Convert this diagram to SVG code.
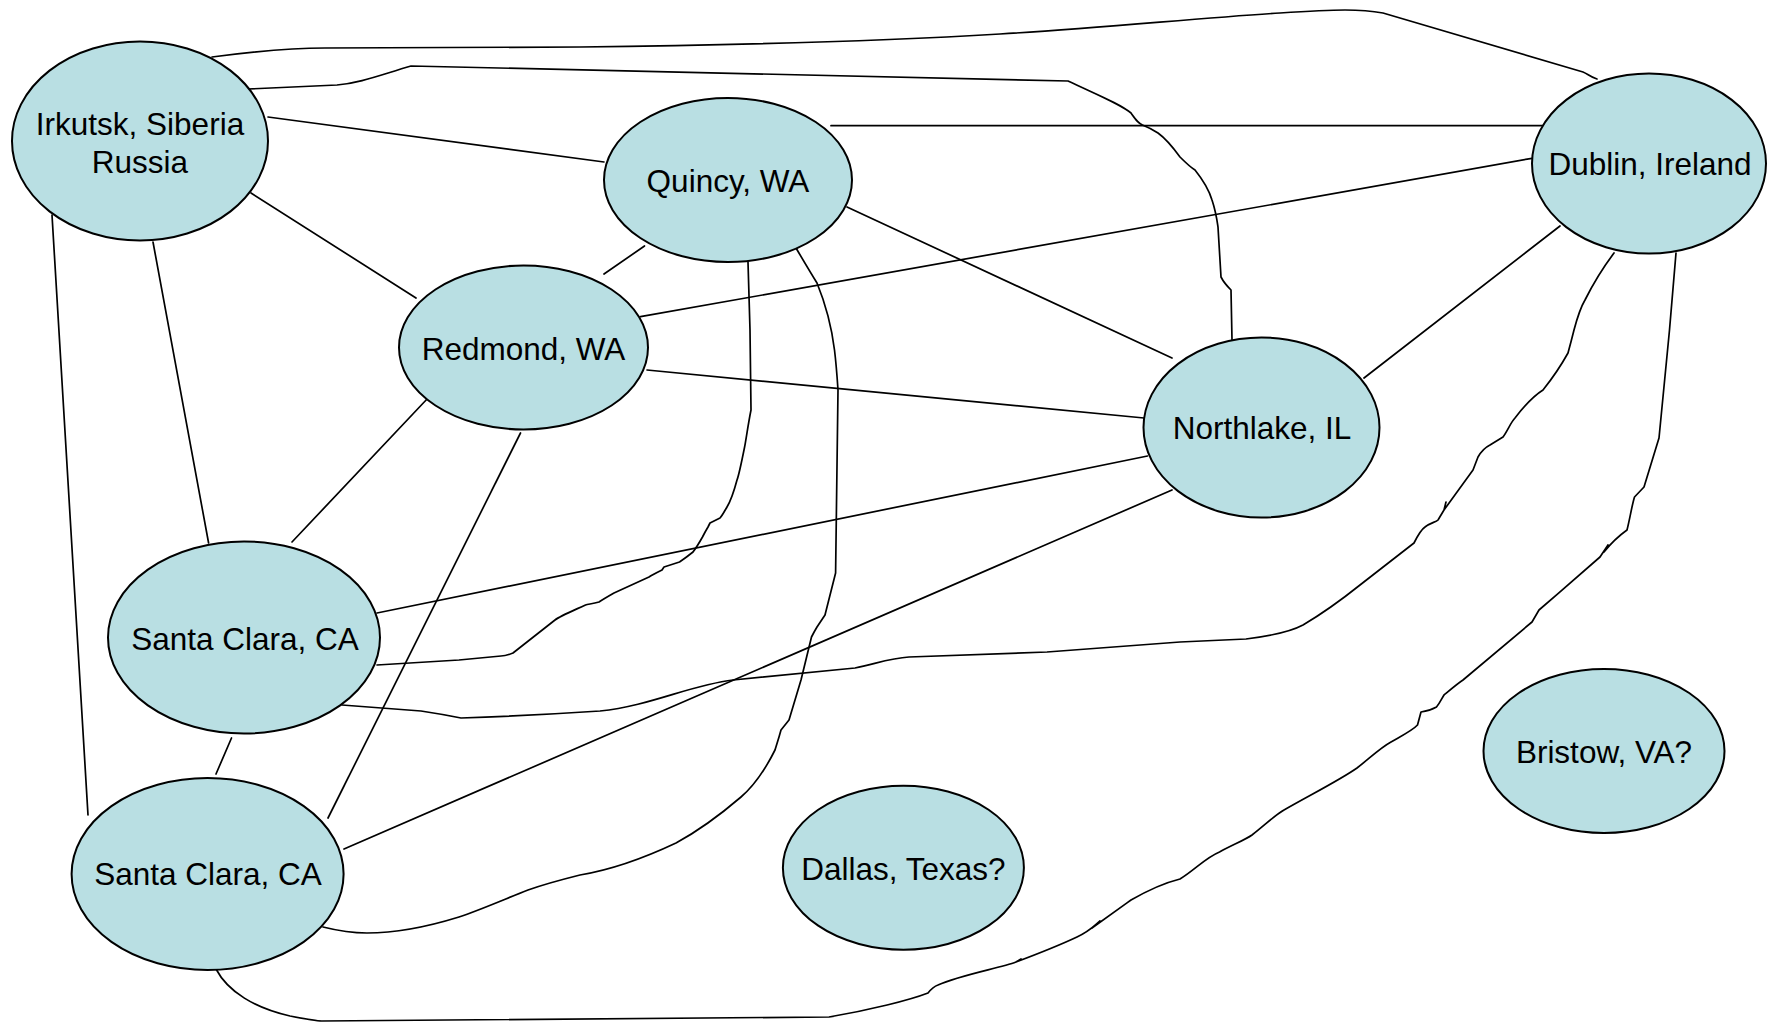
<svg xmlns="http://www.w3.org/2000/svg" width="1767" height="1024" viewBox="0 0 1767 1024">
<style>
.n ellipse{fill:#b9dfe3;stroke:#000;stroke-width:2}
.n text{font-family:"Liberation Sans",Arial,Helvetica,sans-serif;font-size:31.5px;fill:#000;text-anchor:middle}
#edges path,#edges line{fill:none;stroke:#000;stroke-width:1.7;stroke-linejoin:round;stroke-linecap:round}
</style>
<rect width="1767" height="1024" fill="#fff"/>
<g id="edges">
<path d="M212,57 C250,52 290,48 325,48 L580,47 C750,45 900,40 1000,34 C1100,28 1200,18 1280,13 C1310,11 1330,10 1345,10 C1360,10 1372,11 1383,13 L1583,72 C1588,74 1590,77 1597,79"/>
<path d="M249,89 L337,85 C360,83 380,75 411,66 L1068,81 C1100,96 1120,104 1131,113 C1136,120 1138,123 1142.5,125 C1150,128 1155,131 1158,133 C1165,138 1172,146 1180,157 C1186,163 1190,167 1195,170 C1203,180 1209,190 1212,200 C1216,212 1217,220 1218,227 L1221,277 C1223,281 1226,285 1231,290 L1232,340"/>
<line x1="268" y1="117" x2="604" y2="162"/>
<line x1="251" y1="193" x2="416" y2="298"/>
<line x1="153" y1="242" x2="208.6" y2="543"/>
<line x1="52" y1="215" x2="88" y2="815"/>
<line x1="831" y1="125.7" x2="1543" y2="125.7"/>
<line x1="847" y1="207" x2="1172" y2="358"/>
<line x1="640.5" y1="316.7" x2="1532" y2="158.3"/>
<line x1="644.5" y1="246" x2="604" y2="274"/>
<line x1="647" y1="370" x2="1144" y2="418"/>
<line x1="428" y1="398" x2="292" y2="542"/>
<line x1="520.5" y1="433" x2="328" y2="818"/>
<line x1="1364" y1="378" x2="1560" y2="226"/>
<line x1="1147.5" y1="456" x2="377" y2="613"/>
<line x1="1172" y1="490" x2="344" y2="849"/>
<line x1="231.5" y1="738" x2="216" y2="774"/>
<path d="M748,262 L750,330 L751,410 C748,425 746,440 744.6,447 C741,465 739,475 737,480 C733,495 730,502 727,507 C724,512 722,516 720,518 L710,523 L708,527 C705,532 704,534 702.5,537 C698,545 696,548 693,552 C688,556 684,559 679.5,562 L664,567 L662,570 C656,573 652,575 649,577 L614,593 C607,597 602,600 599,602 C592,604 588,604 585.5,605 C570,612 560,616 555,620 L513,653 C508,655 505,656 501,656 L459,660 L377,665"/>
<path d="M796,248 C806,265 812,275 817,283 C826,305 832,330 834.5,350 C836,362 837,375 838,390 L835.6,573 L825,615 L817,627 C814,632 812,636 811.5,637 L801,680 L789,720 L781,730 L779,737 L775,750 C765,770 755,785 741,797 C720,815 700,830 676,843 C640,860 610,870 580,875 C560,880 545,884 528,890 C505,899 480,910 459,917 C430,926 400,933 367,933 C350,933 335,930 323,927"/>
<path d="M342,705 L421,711 Q441,714 461,718 C520,716 570,713 600,711 C650,706 690,685 733,680 L855,668 C875,664 890,658 909,657 L1047,652 L1180,642 L1246,639 C1270,636 1290,632 1303,625 C1325,612 1345,597 1360,585 L1414,543 C1418,535 1422,529 1425,527 C1430,523 1436,522 1438,520 L1444,510 L1446,502 L1444,510 L1473,470 L1478,457 C1482,450 1486,447 1490,445 L1503,437 C1508,430 1511,422 1515,418 C1525,405 1535,395 1543,390 C1555,375 1563,362 1568,353 C1571,342 1573,334 1574,330 C1578,315 1582,305 1585,300 C1595,280 1605,265 1614,253"/>
<path d="M216,969 C228,992 255,1008 290,1016 C305,1019 315,1021 322,1021 L829,1017 C870,1010 910,1000 928,993 C932,988 935,986 938,985 C960,975 1000,968 1016,962 L1021,959 L1016,962 C1040,953 1060,945 1077,937 C1090,931 1095,925 1100,921 L1092,928 C1110,915 1120,908 1131,900 C1145,892 1160,884 1180,879 C1195,870 1205,858 1219.5,852 C1232,845 1245,840 1252,835 C1265,825 1275,815 1284,810 C1310,795 1340,780 1357,768 C1370,758 1380,748 1391,742 C1405,734 1413,730 1417.5,725 L1421,712 C1428,711 1433,709 1436.5,707 C1440,703 1442,698 1444,695 C1450,690 1457,684 1463,680 L1532,622 L1539,610 C1560,592 1585,570 1600,557 L1608,545 L1604,552 C1612,542 1620,535 1627,530 C1630,518 1632,505 1634.5,497 L1644,487 L1659,438 L1669.5,330 L1676,253"/>
</g>
<g id="irkutsk" class="n"><ellipse cx="140" cy="141" rx="128" ry="99.5"/><text x="140" y="135">Irkutsk, Siberia</text><text x="140" y="173">Russia</text></g>
<g id="quincy" class="n"><ellipse cx="728" cy="180" rx="124" ry="82"/><text x="728" y="192">Quincy, WA</text></g>
<g id="dublin" class="n"><ellipse cx="1649" cy="163.5" rx="117" ry="90"/><text x="1650" y="175">Dublin, Ireland</text></g>
<g id="redmond" class="n"><ellipse cx="523.5" cy="347.5" rx="124.5" ry="82"/><text x="523.5" y="360">Redmond, WA</text></g>
<g id="northlake" class="n"><ellipse cx="1261.5" cy="427.5" rx="118" ry="90"/><text x="1262" y="439">Northlake, IL</text></g>
<g id="santaclara1" class="n"><ellipse cx="244" cy="637.5" rx="136" ry="96"/><text x="245" y="650">Santa Clara, CA</text></g>
<g id="santaclara2" class="n"><ellipse cx="207.6" cy="874" rx="136" ry="96"/><text x="208" y="885">Santa Clara, CA</text></g>
<g id="dallas" class="n"><ellipse cx="903.4" cy="867.7" rx="120.5" ry="82"/><text x="903.4" y="880">Dallas, Texas?</text></g>
<g id="bristow" class="n"><ellipse cx="1604" cy="751" rx="120.5" ry="82"/><text x="1604" y="763">Bristow, VA?</text></g>
</svg>
